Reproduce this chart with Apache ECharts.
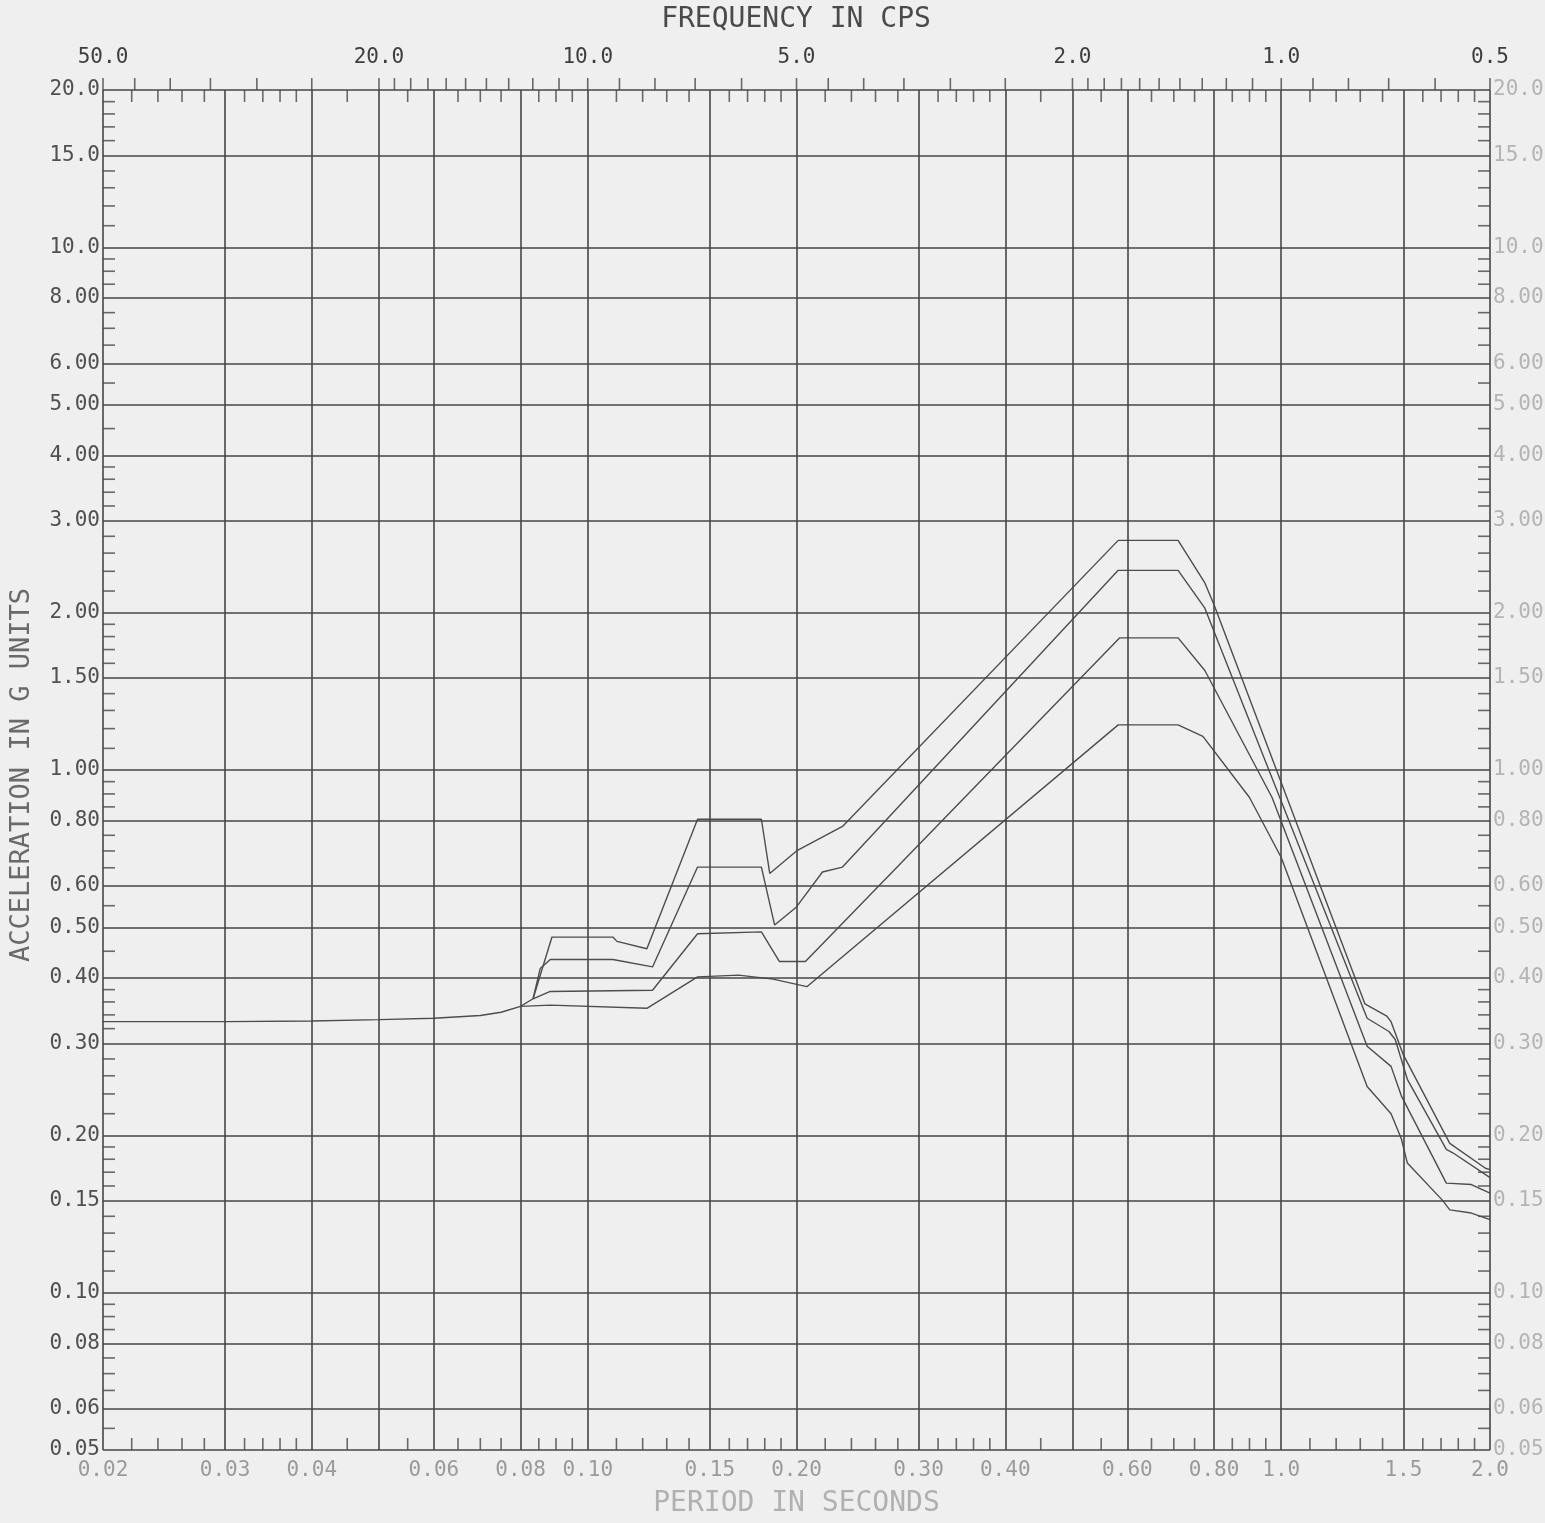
<!DOCTYPE html>
<html>
<head>
<meta charset="utf-8">
<title>Response spectra</title>
<script src="https://cdn.jsdelivr.net/npm/echarts@6/dist/echarts.min.js"></script>
<style>
    html, body { margin: 0; padding: 0; background: #efefef; }
    #chart { width: 1545px; height: 1523px; }
</style>
</head>
<body>
<div id="chart"></div>
<script>
// period axis (seconds)
const periodGrid = [0.02, 0.03, 0.04, 0.05, 0.06, 0.08, 0.1, 0.15, 0.2, 0.3, 0.4, 0.5, 0.6, 0.8, 1.0, 1.5, 2.0];
const periodLabels = ['0.02', '0.03', '0.04', '', '0.06', '0.08', '0.10', '0.15', '0.20', '0.30', '0.40', '', '0.60', '0.80', '1.0', '1.5', '2.0'];
const periodTicks = [0.022, 0.024, 0.026, 0.028, 0.032, 0.034, 0.036, 0.038, 0.045, 0.055, 0.065, 0.07, 0.075,
    0.085, 0.09, 0.095, 0.11, 0.12, 0.13, 0.14, 0.16, 0.17, 0.18, 0.19, 0.22, 0.24, 0.26, 0.28,
    0.32, 0.34, 0.36, 0.38, 0.45, 0.55, 0.65, 0.7, 0.75, 0.85, 0.9, 0.95, 1.1, 1.2, 1.3, 1.4, 1.6, 1.7, 1.8, 1.9];

// frequency axis (cps), top
const freqLabelValues = [50, 20, 10, 5, 2, 1, 0.5];
const freqLabels = ['50.0', '20.0', '10.0', '5.0', '2.0', '1.0', '0.5'];
const freqTicks = [50, 45, 40, 35, 30, 25, 20, 19, 18, 17, 16, 15, 14, 13, 12, 11, 10, 9, 8, 7, 6, 5,
    4.5, 4, 3.5, 3, 2.5, 2, 1.9, 1.8, 1.7, 1.6, 1.5, 1.4, 1.3, 1.2, 1.1, 1, 0.9, 0.8, 0.7, 0.6, 0.5];

// acceleration axis (g)
const accGrid = [20, 15, 10, 8, 6, 5, 4, 3, 2, 1.5, 1, 0.8, 0.6, 0.5, 0.4, 0.3, 0.2, 0.15, 0.1, 0.08, 0.06, 0.05];
const accLabels = ['20.0', '15.0', '10.0', '8.00', '6.00', '5.00', '4.00', '3.00', '2.00', '1.50', '1.00', '0.80',
    '0.60', '0.50', '0.40', '0.30', '0.20', '0.15', '0.10', '0.08', '0.06', '0.05'];
const accTicks = [19, 18, 17, 16, 14, 13, 12, 11, 9.5, 9, 8.5, 7.5, 7, 6.5, 5.5, 4.5, 3.8, 3.6, 3.4, 3.2,
    2.8, 2.6, 2.4, 2.2, 1.9, 1.8, 1.7, 1.6, 1.4, 1.3, 1.2, 1.1, 0.95, 0.9, 0.85, 0.75, 0.7, 0.65, 0.55, 0.45,
    0.38, 0.36, 0.34, 0.32, 0.28, 0.26, 0.24, 0.22, 0.19, 0.18, 0.17, 0.16, 0.14, 0.13, 0.12, 0.11,
    0.095, 0.09, 0.085, 0.075, 0.07, 0.065, 0.055];

// spectra: [period, acceleration]
const commonPart = [[0.02, 0.330], [0.03, 0.330], [0.04, 0.331], [0.05, 0.333], [0.06, 0.335], [0.07, 0.339],
    [0.075, 0.344], [0.08, 0.353]];
const curveA = [[0.08, 0.353], [0.0834, 0.365], [0.0888, 0.479], [0.1087, 0.479], [0.1102, 0.470], [0.1217, 0.455],
    [0.144, 0.805], [0.178, 0.805], [0.183, 0.634], [0.20, 0.70], [0.233, 0.78], [0.582, 2.75], [0.71, 2.75],
    [0.776, 2.28], [0.80, 2.07], [1.32, 0.357], [1.42, 0.338], [1.44, 0.33], [1.50, 0.285], [1.75, 0.193],
    [1.97, 0.173], [2.0, 0.172]];
const curveB = [[0.0834, 0.365], [0.0854, 0.417], [0.0883, 0.434], [0.1087, 0.434], [0.124, 0.42], [0.144, 0.652],
    [0.178, 0.652], [0.186, 0.505], [0.20, 0.547], [0.218, 0.638], [0.233, 0.652], [0.582, 2.41], [0.71, 2.41],
    [0.776, 2.04], [1.33, 0.335], [1.43, 0.316], [1.46, 0.305], [1.52, 0.256], [1.73, 0.188], [1.77, 0.185],
    [2.0, 0.166]];
const curveC = [[0.0834, 0.365], [0.0883, 0.377], [0.124, 0.379], [0.144, 0.486], [0.178, 0.49], [0.189, 0.43],
    [0.206, 0.43], [0.585, 1.79], [0.71, 1.79], [0.776, 1.55], [0.97, 0.886], [1.33, 0.296], [1.44, 0.271],
    [1.49, 0.238], [1.73, 0.162], [1.88, 0.161], [2.0, 0.155]];
const curveD = [[0.08, 0.353], [0.0883, 0.355], [0.1217, 0.35], [0.144, 0.402], [0.165, 0.405], [0.185, 0.398],
    [0.207, 0.385], [0.582, 1.22], [0.71, 1.22], [0.771, 1.16], [0.90, 0.886], [1.0, 0.68], [1.33, 0.248],
    [1.44, 0.22], [1.49, 0.197], [1.52, 0.177], [1.71, 0.150], [1.75, 0.144], [1.88, 0.142], [2.0, 0.138]];

const FONT = 'DejaVu Sans Mono';
const INK = '#464646';
const NONE = 'rgba(0,0,0,0)';

const chart = echarts.init(document.getElementById('chart'));

function curve(name, data) {
    return {
        name: name,
        type: 'line',
        data: data,
        showSymbol: false,
        silent: true,
        lineStyle: { color: '#4d4d4d', width: 1.4 },
        z: 4
    };
}

function ticks(data, size, offset) {
    return {
        type: 'scatter',
        data: data,
        symbol: 'rect',
        symbolSize: size,
        symbolOffset: offset,
        itemStyle: { color: INK },
        silent: true,
        clip: false,
        z: 3
    };
}

const option = {
    backgroundColor: '#efefef',
    animation: false,
    grid: { left: 103, right: 55, top: 90, bottom: 68 },
    xAxis: {
        type: 'log',
        logBase: 10,
        min: 0.02,
        max: 2.0,
        name: 'PERIOD IN SECONDS',
        nameLocation: 'middle',
        nameGap: 40,
        nameTextStyle: { fontFamily: FONT, fontSize: 28, color: '#b0b0b0' },
        axisLine: { show: false },
        axisTick: { show: false },
        axisLabel: { show: false },
        splitLine: { show: false }
    },
    yAxis: {
        type: 'log',
        logBase: 10,
        min: 0.05,
        max: 20,
        axisLine: { show: false },
        axisTick: { show: false },
        axisLabel: { show: false },
        splitLine: { show: false }
    },
    graphic: [
        {
            type: 'text', x: 796, y: 20,
            style: { text: 'FREQUENCY IN CPS', fontFamily: FONT, fontSize: 28, fill: '#4a4a4a', align: 'center', verticalAlign: 'middle' }
        },
        {
            type: 'text', x: 22, y: 775, rotation: Math.PI / 2,
            style: { text: 'ACCELERATION IN G UNITS', fontFamily: FONT, fontSize: 27, fill: '#6a6a6a', align: 'center', verticalAlign: 'middle' }
        }
    ],
    series: [
        {
            // vertical grid with period labels below
            type: 'line',
            data: [],
            markLine: {
                silent: true,
                symbol: ['none', 'none'],
                lineStyle: { color: INK, width: 1.6, type: 'solid' },
                label: { position: 'start', distance: 10, fontFamily: FONT, fontSize: 21, color: '#9a9a9a' },
                data: periodGrid.map(function (v, i) {
                    return { xAxis: v, label: { formatter: periodLabels[i] } };
                })
            }
        },
        {
            // frequency labels on top
            type: 'line',
            data: [],
            markLine: {
                silent: true,
                symbol: ['none', 'none'],
                lineStyle: { color: NONE, width: 1 },
                label: { position: 'end', distance: 22, fontFamily: FONT, fontSize: 21, color: '#3e3e3e' },
                data: freqLabelValues.map(function (f, i) {
                    return { xAxis: 1 / f, label: { formatter: freqLabels[i] } };
                })
            }
        },
        {
            // horizontal grid with acceleration labels left
            type: 'line',
            data: [],
            markLine: {
                silent: true,
                symbol: ['none', 'none'],
                lineStyle: { color: INK, width: 1.6, type: 'solid' },
                label: { position: 'start', distance: 3, fontFamily: FONT, fontSize: 21, color: '#505050' },
                data: accGrid.map(function (v, i) {
                    return { yAxis: v, label: { formatter: accLabels[i] } };
                })
            }
        },
        {
            // acceleration labels right
            type: 'line',
            data: [],
            markLine: {
                silent: true,
                symbol: ['none', 'none'],
                lineStyle: { color: NONE, width: 1 },
                label: { position: 'end', distance: 3, fontFamily: FONT, fontSize: 21, color: '#b4b4b4' },
                data: accGrid.map(function (v, i) {
                    return { yAxis: v, label: { formatter: accLabels[i] } };
                })
            }
        },
        ticks(periodTicks.map(function (p) { return [p, 0.05]; }), [1.6, 12], [0, -6]),
        ticks(periodTicks.map(function (p) { return [p, 20]; }), [1.6, 12], [0, 6]),
        ticks(freqTicks.map(function (f) { return [1 / f, 20]; }), [1.6, 12], [0, -6]),
        ticks(accTicks.map(function (a) { return [0.02, a]; }), [12, 1.6], [6, 0]),
        ticks(accTicks.map(function (a) { return [2.0, a]; }), [12, 1.6], [-6, 0]),
        curve('common', commonPart),
        curve('A', curveA),
        curve('B', curveB),
        curve('C', curveC),
        curve('D', curveD)
    ]
};

chart.setOption(option);
window.addEventListener('resize', function () {
    chart.resize();
});
</script>
</body>
</html>
